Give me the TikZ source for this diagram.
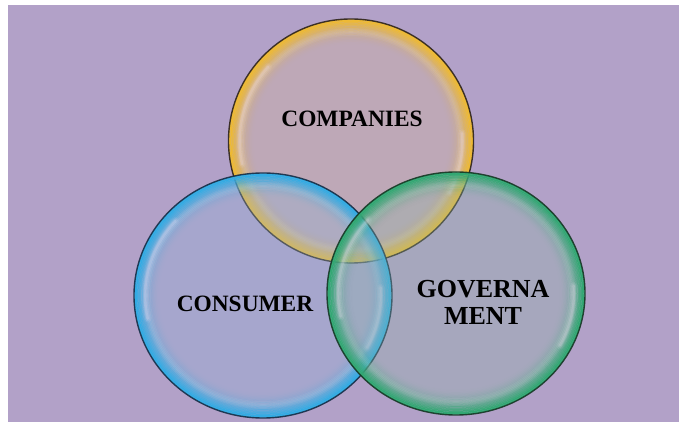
\documentclass[tikz,border=0pt]{standalone}
\usepackage{fontspec}
\setmainfont{Liberation Serif}
\begin{document}
\definecolor{bgpurple}{RGB}{178,161,200}
\definecolor{ringgold}{RGB}{238,186,52}
\definecolor{ringblue}{RGB}{50,172,228}
\definecolor{ringgreen}{RGB}{50,168,115}
\definecolor{tintgold}{RGB}{218,184,150}
\definecolor{tintblue}{RGB}{141,178,217}
\definecolor{tintgreen}{RGB}{141,181,167}
\definecolor{edgegold}{RGB}{45,35,25}
\definecolor{edgeblue}{RGB}{20,45,70}
\definecolor{edgegreen}{RGB}{20,55,35}
\definecolor{shine}{RGB}{245,225,245}
% one soap-bubble disc: centre, radii, ring colour, inner tint, outline colour
\newcommand{\soapbubble}[7]{%
  \fill[#6, opacity=0.32] (#1,#2) ellipse [x radius=#3pt, y radius=#4pt];
  \foreach \k in {0,...,17}{%
    \pgfmathsetmacro\brx{#3-1-\k*1.4}%
    \pgfmathsetmacro\bry{#4-1-\k*1.4}%
    \pgfmathsetmacro\bop{min(1,1.1*(1-\k/18)^2)}%
    \draw[#5, line width=1.5pt, opacity=\bop] (#1,#2) ellipse [x radius=\brx pt, y radius=\bry pt];
  }
  % soft pale halo inside the coloured rim
  \foreach \k/\o in {0/0.05,1/0.08,2/0.1,3/0.08,4/0.05}{%
    \pgfmathsetmacro\brx{#3-10-\k*1.5}%
    \pgfmathsetmacro\bry{#4-10-\k*1.5}%
    \draw[white, line width=1.6pt, opacity=\o] (#1,#2) ellipse [x radius=\brx pt, y radius=\bry pt];
  }
  % glossy highlights, upper left and right
  \foreach \w/\o in {8/0.08,5/0.12,2.5/0.2}{%
    \pgfmathsetmacro\brx{#3-11}%
    \pgfmathsetmacro\bry{#4-11}%
    \draw[shine, line width=\w pt, opacity=\o, line cap=round]
      (#1,#2) ++(138:\brx pt and \bry pt)
      arc [start angle=138, end angle=192, x radius=\brx pt, y radius=\bry pt];
    \draw[shine, line width=\w pt, opacity=\o, line cap=round]
      (#1,#2) ++(-28:\brx pt and \bry pt)
      arc [start angle=-28, end angle=4, x radius=\brx pt, y radius=\bry pt];
  }
  \draw[#7, line width=1.4pt, opacity=0.9] (#1,#2) ellipse [x radius=#3pt, y radius=#4pt];
}
\begin{tikzpicture}[x=1pt,y=1pt,
  label/.style={font=\fontsize{23.4}{27}\selectfont\bfseries, inner sep=0pt, text=black},
  biglabel/.style={font=\fontsize{26}{27}\selectfont\bfseries, inner sep=0pt, align=center, text=black}]
  \useasboundingbox (0,0) rectangle (679,422);
  \fill[white] (0,0) rectangle (679,422);
  \fill[bgpurple] (8,0) rectangle (679,417);

  \coordinate (ccomp) at (351,281);
  \coordinate (ccons) at (263,126.5);
  \coordinate (cgov) at (456,128.5);

  \soapbubble{351}{281}{122.5}{122}{ringgold}{tintgold}{edgegold}
  \soapbubble{263}{126.5}{129}{122.5}{ringblue}{tintblue}{edgeblue}
  \soapbubble{456}{128.5}{129}{121.5}{ringgreen}{tintgreen}{edgegreen}

  \node[label, anchor=base] (companies) at (352,295.3) {COMPANIES};
  \node[label, anchor=base] (consumer) at (245,110.3) {CONSUMER};
  \node[biglabel] (government) at (483,120) {GOVERNA\\MENT};
\end{tikzpicture}
\end{document}
